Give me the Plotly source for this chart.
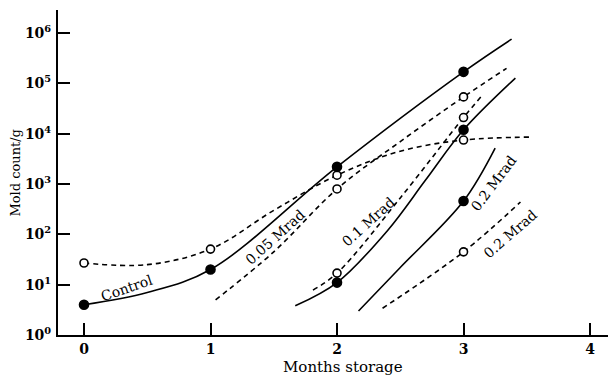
import plotly.graph_objects as go

# Measured counts at each monthly sampling (mold count per gram)
months = [0, 1, 2, 3]
control_solid_pts = [4, 20, 2200, 1.7e5]
control_dashed_pts = [27, 51, 1500, 7500]
mrad005_dashed_x = [2, 3]
mrad005_dashed_pts = [800, 5.4e4]
mrad01_solid_x = [2, 3]
mrad01_solid_pts = [11, 1.2e4]
mrad01_dashed_x = [2, 3]
mrad01_dashed_pts = [17, 2.1e4]
mrad02_solid_x = [3]
mrad02_solid_pts = [460]
mrad02_dashed_x = [3]
mrad02_dashed_pts = [45]

# Fitted growth curves (nodes along each smooth curve)
control_solid_cx = [0, 0.5, 1, 2, 3, 3.38]
control_solid_cy = [4, 7, 20, 2200, 1.7e5, 7.6e5]
control_dashed_cx = [0, 0.5, 1, 1.5, 2, 2.5, 3, 3.53]
control_dashed_cy = [27, 25, 51, 300, 1500, 4500, 7500, 8600]
mrad005_dashed_cx = [1.04, 1.5, 2, 2.5, 3, 3.34]
mrad005_dashed_cy = [5, 45, 800, 7000, 5.4e4, 2.0e5]
mrad01_solid_cx = [1.67, 2, 2.4, 2.7, 3, 3.41]
mrad01_solid_cy = [3.8, 11, 120, 1200, 1.2e4, 1.28e5]
mrad01_dashed_cx = [1.81, 2, 2.5, 3, 3.15]
mrad01_dashed_cy = [7.8, 17, 530, 2.1e4, 5.9e4]
mrad02_solid_cx = [2.17, 2.5, 3, 3.25]
mrad02_solid_cy = [3.0, 22, 460, 5200]
mrad02_dashed_cx = [2.36, 3, 3.45]
mrad02_dashed_cy = [3.4, 45, 440]

y_ticks = [1, 10, 100, 1e3, 1e4, 1e5, 1e6]
y_tick_text = ["10<sup>%d</sup>" % i for i in range(7)]
x_ticks = [0, 1, 2, 3, 4]

FONT = "DejaVu Serif"
DASH = "5px,4px"

fig = go.Figure()


def add_curve(xs, ys, dash):
    fig.add_trace(go.Scatter(
        x=xs, y=ys, mode="lines", hoverinfo="skip",
        line=dict(color="black", width=1.6, dash=dash,
                  shape="spline", smoothing=1.0)))


def add_points(xs, ys, filled):
    fig.add_trace(go.Scatter(
        x=xs, y=ys, mode="markers", hoverinfo="skip",
        marker=dict(symbol="circle", size=9 if filled else 8,
                    color="black" if filled else "white",
                    line=dict(color="black", width=1.6))))


add_curve(control_solid_cx, control_solid_cy, "solid")
add_curve(control_dashed_cx, control_dashed_cy, DASH)
add_curve(mrad005_dashed_cx, mrad005_dashed_cy, DASH)
add_curve(mrad01_solid_cx, mrad01_solid_cy, "solid")
add_curve(mrad01_dashed_cx, mrad01_dashed_cy, DASH)
add_curve(mrad02_solid_cx, mrad02_solid_cy, "solid")
add_curve(mrad02_dashed_cx, mrad02_dashed_cy, DASH)

add_points(months, control_dashed_pts, False)
add_points(mrad005_dashed_x, mrad005_dashed_pts, False)
add_points(mrad01_dashed_x, mrad01_dashed_pts, False)
add_points(mrad02_dashed_x, mrad02_dashed_pts, False)
add_points(months, control_solid_pts, True)
add_points(mrad01_solid_x, mrad01_solid_pts, True)
add_points(mrad02_solid_x, mrad02_solid_pts, True)

# Curve labels: (text, x, log10 y, angle)
labels = [
    ("Control", 0.34, 0.93, -19),
    ("0.05 Mrad", 1.51, 1.95, -42),
    ("0.1 Mrad", 2.245, 2.245, -42),
    ("0.2 Mrad", 3.24, 3.02, -53),
    ("0.2 Mrad", 3.37, 2.0, -41),
]
for text, x, ly, ang in labels:
    fig.add_annotation(x=x, y=ly, xref="x", yref="y", text=text,
                       showarrow=False, textangle=ang,
                       xanchor="center", yanchor="middle",
                       font=dict(family=FONT, size=14, color="black"))

fig.add_annotation(x=-0.078, y=0.5, xref="paper", yref="paper",
                   text="Mold count/g", showarrow=False, textangle=-90,
                   xanchor="center", yanchor="middle",
                   font=dict(family=FONT, size=13, color="black"))
fig.add_annotation(x=0.518, y=-0.098, xref="paper", yref="paper",
                   text="Months storage", showarrow=False,
                   xanchor="center", yanchor="middle",
                   font=dict(family=FONT, size=15, color="black"))

axis_font = dict(family=FONT, size=14, color="black")
fig.update_layout(
    width=608, height=378,
    margin=dict(l=58, r=0, t=10, b=43),
    paper_bgcolor="white", plot_bgcolor="white",
    showlegend=False,
    xaxis=dict(range=[-0.2055, 4.142], tickvals=x_ticks,
               ticktext=["<b>%d</b>" % v for v in x_ticks],
               showgrid=False, zeroline=False, showline=True,
               linecolor="black", linewidth=2, ticks="inside",
               ticklen=12, tickwidth=1.5, tickcolor="black",
               tickfont=axis_font),
    yaxis=dict(type="log", range=[0, 6.46], tickvals=y_ticks,
               ticktext=["<b>%s</b>" % t for t in y_tick_text],
               showgrid=False, zeroline=False, showline=True,
               linecolor="black", linewidth=2, ticks="inside",
               ticklen=12, tickwidth=1.5, tickcolor="black",
               ticklabelstandoff=2, tickfont=axis_font),
)

fig.write_html("out.html")
